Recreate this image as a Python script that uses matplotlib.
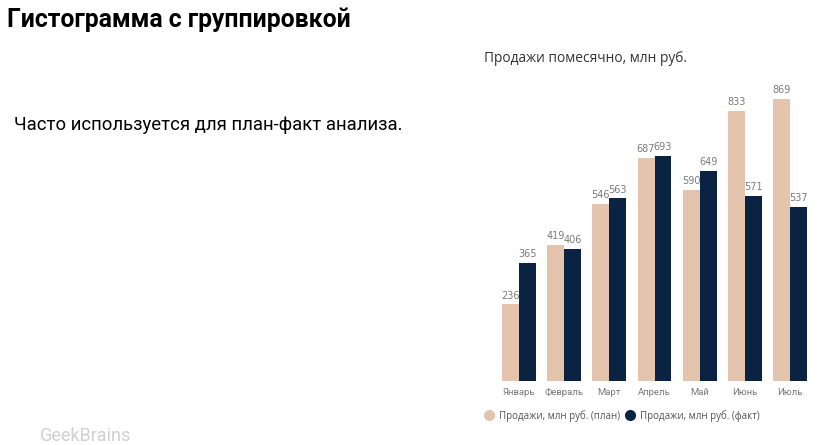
import numpy as np
import matplotlib
matplotlib.use('Agg')
import matplotlib.pyplot as plt
from matplotlib.lines import Line2D

months = ['Январь', 'Февраль', 'Март', 'Апрель', 'Май', 'Июнь', 'Июль']
plan = [236, 419, 546, 687, 590, 833, 869]
fact = [365, 406, 563, 693, 649, 571, 537]

plan_color = '#E4C4AD'
fact_color = '#0B2342'
label_color = '#7a7a7a'

plt.rcParams['font.family'] = ['Roboto', 'DejaVu Sans']

fig = plt.figure(figsize=(8.34, 4.45), dpi=100)
fig.patch.set_facecolor('white')

# заголовки слайда
fig.text(7 / 834, 1 - 20 / 445, 'Гистограмма с группировкой', fontsize=17.8,
         fontweight='bold', color='black', va='center', ha='left')
fig.text(14 / 834, 1 - 125 / 445, 'Часто используется для план-факт анализа.',
         fontsize=13.3, color='black', va='center', ha='left')
fig.text(484 / 834, 1 - 59 / 445, 'Продажи помесячно, млн руб.', fontsize=9.9,
         color='#333333', va='center', ha='left', family=['Open Sans', 'DejaVu Sans'])

# логотип внизу
fig.text(40 / 834, 1 - 436 / 445, 'GeekBrains', fontsize=13, color='#d0d0d0',
         va='center', ha='left')

ax = fig.add_axes([492 / 834, 64 / 445, 325 / 834, 308 / 445])
x = np.arange(len(months))
w = 0.375
b1 = ax.bar(x - w / 2, plan, width=w, color=plan_color)
b2 = ax.bar(x + w / 2, fact, width=w, color=fact_color)

for bars, vals in ((b1, plan), (b2, fact)):
    for r, v in zip(bars, vals):
        ax.text(r.get_x() + r.get_width() / 2, v + 12, str(v), ha='center',
                va='bottom', fontsize=7, color=label_color,
                family=['DejaVu Sans Condensed', 'DejaVu Sans'])

ax.set_xlim(-0.6, 6.6)
ax.set_ylim(0, 950)
ax.set_xticks(x)
ax.set_xticklabels(months, fontsize=6.8, color=label_color)
ax.tick_params(axis='x', length=0, pad=5)
ax.set_yticks([])
for s in ax.spines.values():
    s.set_visible(False)

handles = [Line2D([], [], marker='o', linestyle='', color=plan_color, markersize=7),
           Line2D([], [], marker='o', linestyle='', color=fact_color, markersize=7)]
fig.legend(handles, ['Продажи, млн руб. (план)', 'Продажи, млн руб. (факт)'],
           loc='center left', bbox_to_anchor=(471 / 834, 1 - 416 / 445), ncol=2,
           frameon=False, handletextpad=0.0, columnspacing=0.0,
           labelcolor='#555555', prop={'family': ['Open Sans', 'DejaVu Sans'], 'size': 7})

plt.savefig('out.png', dpi=100, facecolor='white')
